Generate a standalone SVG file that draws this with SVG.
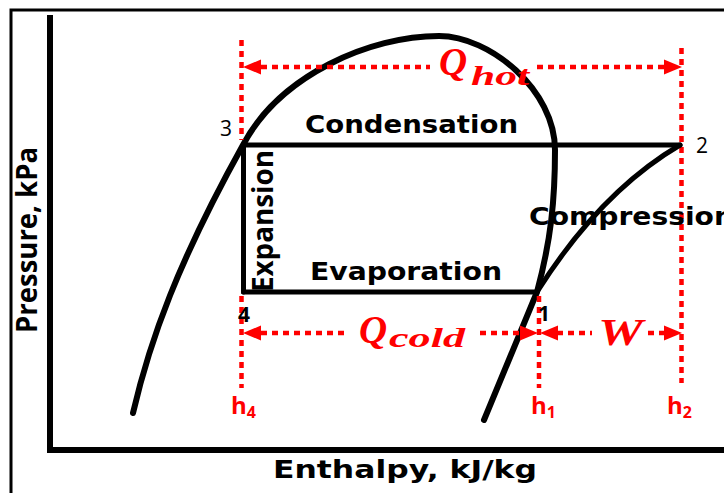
<svg xmlns="http://www.w3.org/2000/svg" width="724" height="493" viewBox="0 0 724 493">
<style>
.frame{stroke:#000;stroke-width:3;fill:none}
.ax{stroke:#000;stroke-width:6;fill:none;stroke-linecap:square}
.dome{stroke:#000;stroke-width:6;fill:none;stroke-linecap:round;stroke-linejoin:round}
.cyc{stroke:#000;stroke-width:5;fill:none;stroke-linejoin:round;stroke-linecap:round}
.dot{stroke:#f00;stroke-width:4.5;stroke-dasharray:6 5;fill:none}
.ah{fill:#f00}
.lbl{font-family:"DejaVu Sans",Verdana,sans-serif;font-weight:bold;font-size:24px;fill:#000}
.lbl2{font-family:"Open Sans",sans-serif;font-weight:bold;font-size:28px;fill:#000}
.num{font-family:"Open Sans",sans-serif;font-size:21px;fill:#000;text-anchor:middle}
.q{font-family:"Liberation Serif",serif;font-style:italic;font-weight:bold;fill:#f00}
.h{font-family:"Open Sans",sans-serif;font-weight:bold;font-size:24px;fill:#f00}
</style>
<rect width="724" height="493" fill="#fff"/>
<g id="frame">
<path class="frame" d="M11,495 V10 H726"/>
<path class="ax" d="M50,18 V450 H726"/>
<text class="lbl2" transform="translate(37,333) rotate(-90)" textLength="186" lengthAdjust="spacingAndGlyphs">Pressure, kPa</text>
<text class="lbl" x="273" y="478" textLength="264" lengthAdjust="spacingAndGlyphs">Enthalpy, kJ/kg</text>
</g>
<g id="dome">
<path class="dome" d="M133,413 C150,340 178,262 243,145 C280,75 370,36 439,36 C490,36 555,90 555,150 C555,200 551,240 537,292 L484,420"/>
</g>
<g id="annotations">
<path class="dot" d="M241.5,40 V140 M241.5,296 V388 M539,296 V388 M681.5,48 V383"/>
<path class="dot" d="M261,67 H430 M537,67 H664 M261,333 H348 M480,333 H521 M557,333 H592 M648,333 H664"/>
<polygon class="ah" points="243,67 261,59.5 261,74.5"/>
<polygon class="ah" points="682,67 664,59.5 664,74.5"/>
<polygon class="ah" points="243,333 261,325.5 261,340.5"/>
<polygon class="ah" points="538,333 520,325.5 520,340.5"/>
<polygon class="ah" points="540,333 558,325.5 558,340.5"/>
<polygon class="ah" points="682,333 664,325.5 664,340.5"/>
<text class="q" x="439" y="75" font-size="39">Q</text>
<text class="q" x="471" y="85" font-size="28" textLength="58" lengthAdjust="spacingAndGlyphs">hot</text>
<text class="q" x="359" y="343" font-size="39">Q</text>
<text class="q" x="389" y="347" font-size="28" textLength="76" lengthAdjust="spacingAndGlyphs">cold</text>
<text class="q" x="598" y="345" font-size="38" font-weight="normal" textLength="45" lengthAdjust="spacingAndGlyphs">W</text>
<text class="h" x="231" y="414">h<tspan font-size="16" dy="4">4</tspan></text>
<text class="h" x="531" y="414">h<tspan font-size="16" dy="4">1</tspan></text>
<text class="h" x="667" y="414">h<tspan font-size="16" dy="4">2</tspan></text>
</g>
<g id="connectors">
<path id="condensation" class="cyc" d="M680,145 H243.5"/>
<path id="expansion" class="cyc" d="M243.5,145 V292"/>
<path id="evaporation" class="cyc" d="M243.5,292 H537"/>
<path id="compression" class="cyc" d="M537,292 Q600,192 680,145"/>
<text class="lbl" x="305" y="133" textLength="213" lengthAdjust="spacingAndGlyphs">Condensation</text>
<text class="lbl" x="310" y="280" textLength="192" lengthAdjust="spacingAndGlyphs">Evaporation</text>
<text class="lbl" x="529" y="225" textLength="205" lengthAdjust="spacingAndGlyphs">Compression</text>
<text class="lbl2" transform="translate(273,292) rotate(-90)" textLength="142" lengthAdjust="spacingAndGlyphs">Expansion</text>
</g>
<g id="node1"><text class="num" x="544" y="321" font-weight="bold">1</text></g>
<g id="node2"><text class="num" x="702" y="153">2</text></g>
<g id="node3"><text class="num" x="226" y="136">3</text></g>
<g id="node4"><text class="num" x="244" y="322" font-weight="bold">4</text></g>
</svg>
